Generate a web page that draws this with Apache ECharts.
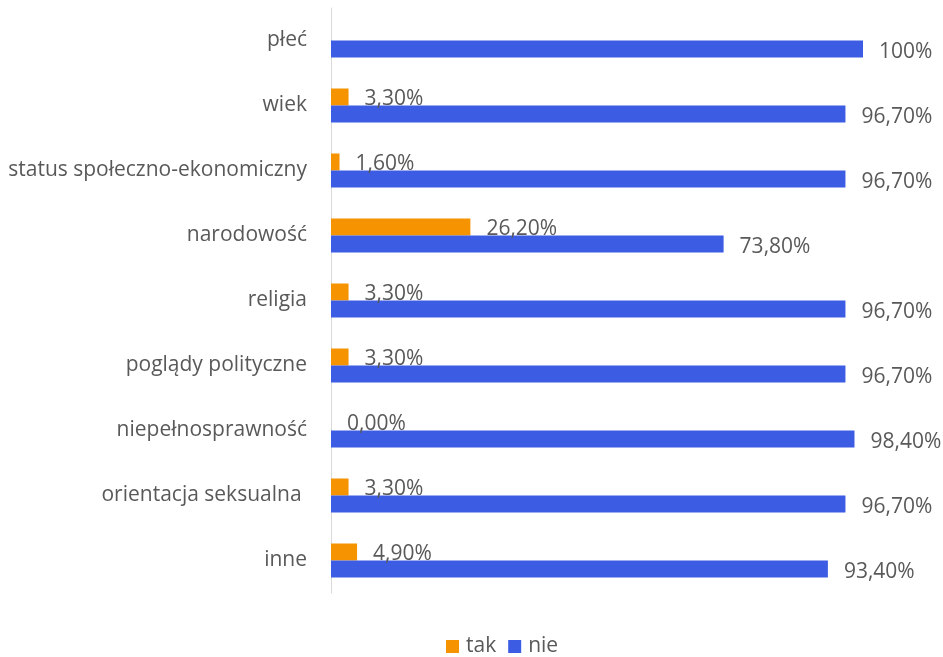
<!DOCTYPE html>
<html>
<head>
<meta charset="utf-8">
<style>
  html, body { margin: 0; padding: 0; background: #fff; }
  #chart { width: 943px; height: 657px; }
</style>
<script src="https://cdn.jsdelivr.net/npm/echarts@6/dist/echarts.min.js"></script>
</head>
<body>
<div id="chart"></div>
<script>
// kategorie od góry do dołu
const categories = ['płeć', 'wiek', 'status społeczno-ekonomiczny', 'narodowość', 'religia',
    'poglądy polityczne', 'niepełnosprawność', 'orientacja seksualna ', 'inne']
const takValues = [null, 3.3, 1.6, 26.2, 3.3, 3.3, 0, 3.3, 4.9]
const nieValues = [100, 96.7, 96.7, 73.8, 96.7, 96.7, 98.4, 96.7, 93.4]

const font = 'Open Sans'
const textColor = '#595959'
const fs = 21

function fmt(p) {
    if (p.value == null) return ''
    if (p.value === 100) return '100%'
    return p.value.toFixed(2).replace('.', ',') + '%'
}

const chart = echarts.init(document.getElementById('chart'))
chart.setOption({
    animation: false,
    textStyle: { fontFamily: font },
    legend: {
        top: 631,
        left: 441,
        itemWidth: 13,
        itemHeight: 13,
        itemGap: 12,
        icon: 'rect',
        textStyle: { fontSize: fs, color: textColor, fontFamily: font, padding: [0, 0, 0, 2] },
        data: ['tak', 'nie']
    },
    grid: { left: 331, right: 80, top: 8, bottom: 64 },
    xAxis: {
        type: 'value',
        min: 0,
        max: 100,
        show: false
    },
    yAxis: {
        type: 'category',
        inverse: true,
        data: categories,
        axisLine: { lineStyle: { color: '#d9d9d9', width: 1 } },
        axisTick: { show: false },
        axisLabel: { fontSize: fs, color: textColor, fontFamily: font, margin: 24 }
    },
    series: [
        {
            name: 'tak',
            type: 'bar',
            data: takValues,
            barWidth: 17,
            barGap: '0%',
            itemStyle: { color: '#F59300' },
            label: {
                show: true,
                position: 'right',
                distance: 16,
                offset: [0, 2],
                fontSize: fs,
                color: textColor,
                fontFamily: font,
                formatter: fmt
            }
        },
        {
            name: 'nie',
            type: 'bar',
            data: nieValues,
            barWidth: 17,
            barGap: '0%',
            itemStyle: { color: '#3C5DE3' },
            label: {
                show: true,
                position: 'right',
                distance: 16,
                offset: [0, 3],
                fontSize: fs,
                color: textColor,
                fontFamily: font,
                formatter: fmt
            }
        }
    ]
})
</script>
</body>
</html>
